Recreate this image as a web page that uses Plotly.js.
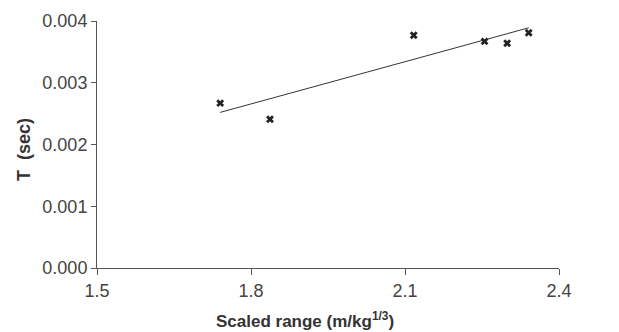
<!DOCTYPE html>
<html>
<head>
<meta charset="utf-8">
<script src="https://cdn.plot.ly/plotly-3.0.1.min.js"></script>
<style>html,body{margin:0;padding:0;background:#fff;}#chart{width:619px;height:332px;}</style>
</head>
<body>
<div id="chart"></div>
<script>
// Measured data points: scaled range (m/kg^1/3) vs T (sec)
const scaledRange = [1.74, 1.837, 2.117, 2.255, 2.299, 2.341];
const periodT = [0.00267, 0.00241, 0.00377, 0.00367, 0.00364, 0.00381];
// Trend line endpoints
const trendX = [1.74, 2.341];
const trendY = [0.00252, 0.00389];
const xTickVals = [1.5, 1.8, 2.1, 2.4];
const xTickText = ['1.5', '1.8', '2.1', '2.4'];
const yTickVals = [0, 0.001, 0.002, 0.003, 0.004];
const yTickText = ['0.000', '0.001', '0.002', '0.003', '0.004'];

const font = 'Liberation Sans, Arial, Helvetica, sans-serif';
const data = [
  {x: trendX, y: trendY, mode: 'lines', line: {color: '#333', width: 1}, hoverinfo: 'skip'},
  {x: scaledRange, y: periodT, mode: 'markers',
   marker: {symbol: 'x', size: 7, color: '#222', line: {width: 0}}}
];
const layout = {
  width: 619, height: 332,
  margin: {l: 97, r: 60, t: 21, b: 64},
  paper_bgcolor: '#fff', plot_bgcolor: '#fff',
  showlegend: false,
  font: {family: font, color: '#444', size: 18},
  xaxis: {
    range: [1.5, 2.4], tickvals: xTickVals, ticktext: xTickText,
    showgrid: false, zeroline: false, showline: true, linecolor: '#555', linewidth: 1,
    ticks: 'outside', ticklen: 6, tickcolor: '#555', tickfont: {size: 18, color: '#444'}
  },
  yaxis: {
    range: [0, 0.004], tickvals: yTickVals, ticktext: yTickText,
    showgrid: false, zeroline: false, showline: true, linecolor: '#555', linewidth: 1,
    ticks: 'outside', ticklen: 5, tickcolor: '#555', tickfont: {size: 18, color: '#444'}
  },
  annotations: [
    {text: '<b>Scaled range (m/kg<sup>1/3</sup>)</b>', xref: 'paper', yref: 'paper',
     x: (305 - 97) / 462, y: -(320 - 268) / 247, xanchor: 'center', yanchor: 'middle',
     showarrow: false, font: {size: 17, color: '#333', family: font}},
    {text: '<b>T  (sec)</b>', xref: 'paper', yref: 'paper',
     x: (24 - 97) / 462, y: (268 - 150) / 247, xanchor: 'center', yanchor: 'middle', textangle: -90,
     showarrow: false, font: {size: 18, color: '#333', family: font}}
  ]
};
Plotly.newPlot('chart', data, layout, {displayModeBar: false, staticPlot: true});
</script>
</body>
</html>
